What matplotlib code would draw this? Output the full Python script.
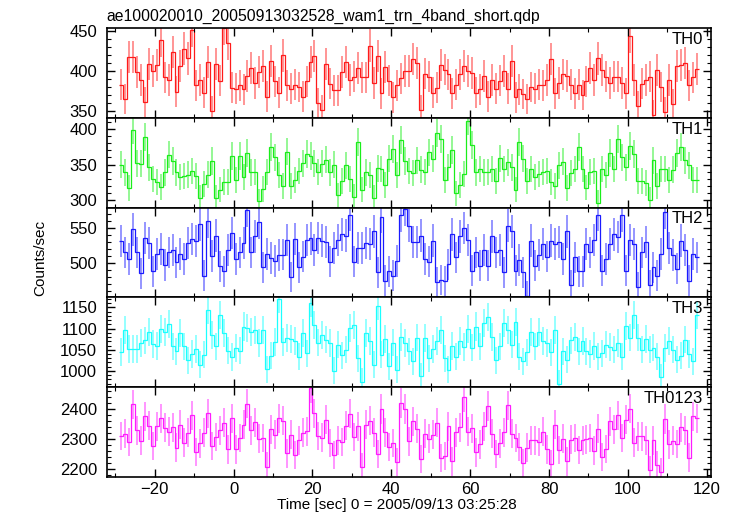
import numpy as np
import matplotlib
matplotlib.use("Agg")
import matplotlib.pyplot as plt
from matplotlib.ticker import MultipleLocator

plt.rcParams['font.family'] = ['Liberation Sans', 'DejaVu Sans']

# light curve bins (1 s), time relative to 2005/09/13 03:25:28
t_start = -29.0
bin_size = 1.0

th0 = [383, 365, 418, 418, 399, 389, 361, 409, 400, 408,
       439, 392, 389, 424, 374, 407, 428, 416, 452, 382,
       389, 373, 412, 350, 409, 388, 454, 435, 379, 378,
       382, 377, 394, 404, 385, 399, 406, 368, 413, 387,
       373, 420, 382, 378, 383, 380, 368, 387, 411, 419,
       360, 351, 409, 384, 376, 376, 399, 411, 389, 393,
       404, 392, 392, 432, 385, 419, 372, 405, 388, 367,
       382, 391, 400, 400, 415, 410, 351, 397, 393, 373,
       379, 408, 402, 396, 372, 383, 396, 406, 400, 398,
       373, 377, 394, 368, 389, 378, 388, 400, 378, 413,
       367, 377, 371, 365, 380, 378, 383, 382, 389, 415,
       372, 385, 396, 394, 383, 372, 383, 370, 387, 404,
       389, 416, 401, 393, 385, 393, 393, 385, 372, 444,
       389, 356, 384, 389, 393, 345, 401, 380, 349, 389,
       358, 406, 408, 410, 382, 392, 403]

th1 = [350, 339, 317, 398, 352, 351, 388, 346, 330, 326,
       319, 339, 364, 355, 339, 333, 334, 336, 341, 334,
       304, 323, 336, 355, 304, 315, 326, 326, 362, 328,
       362, 333, 366, 339, 340, 299, 316, 340, 375, 360,
       335, 320, 368, 320, 328, 341, 352, 365, 362, 352,
       340, 351, 357, 339, 350, 307, 327, 349, 330, 305,
       382, 315, 339, 335, 304, 345, 344, 322, 358, 372,
       335, 384, 355, 341, 338, 356, 343, 340, 367, 358,
       394, 386, 328, 346, 370, 310, 322, 337, 411, 377,
       339, 344, 339, 340, 344, 327, 359, 344, 353, 346,
       315, 382, 358, 327, 344, 333, 337, 340, 341, 326,
       320, 349, 354, 317, 338, 344, 375, 344, 318, 340,
       341, 297, 344, 335, 366, 344, 386, 360, 346, 376,
       365, 327, 327, 324, 301, 356, 320, 344, 344, 328,
       343, 366, 375, 356, 349, 329, 329]

th2 = [531, 515, 506, 548, 515, 485, 536, 529, 488, 513,
       520, 497, 515, 518, 501, 513, 506, 529, 534, 531,
       555, 482, 560, 510, 539, 495, 488, 519, 543, 506,
       515, 528, 576, 515, 538, 558, 494, 513, 507, 503,
       511, 512, 533, 480, 534, 494, 509, 533, 535, 518,
       536, 532, 530, 502, 521, 533, 541, 539, 569, 502,
       521, 522, 528, 527, 545, 487, 566, 475, 488, 482,
       503, 568, 577, 553, 530, 530, 539, 506, 502, 532,
       473, 476, 474, 498, 541, 508, 538, 550, 533, 489,
       515, 496, 519, 496, 538, 515, 518, 487, 553, 545,
       489, 504, 487, 453, 532, 496, 511, 527, 509, 532,
       527, 530, 506, 545, 468, 508, 488, 488, 527, 515,
       533, 569, 489, 506, 527, 541, 537, 568, 489, 533,
       527, 466, 515, 530, 468, 494, 482, 513, 573, 522,
       511, 492, 532, 519, 475, 513, 508]

th3 = [1045, 1096, 1052, 1052, 1052, 1066, 1072, 1092, 1064, 1059,
       1099, 1092, 1111, 1058, 1046, 1089, 1058, 1025, 1040, 1052,
       1015, 1038, 1144, 1085, 1058, 1132, 1089, 1048, 1033, 1054,
       1048, 1105, 1101, 1092, 1097, 1066, 1096, 1004, 1036, 1068,
       1170, 1068, 1077, 1076, 1070, 1034, 1089, 1042, 1161, 1109,
       1067, 1084, 1074, 1066, 1001, 1062, 1037, 1050, 1101, 1109,
       1030, 975, 1089, 1070, 1015, 1154, 1038, 1075, 1011, 1067,
       1003, 1081, 1066, 1046, 1023, 1079, 987, 1077, 1030, 1052,
       1070, 1097, 1030, 1003, 1059, 1034, 1070, 1056, 1099, 1055,
       1105, 1058, 1114, 1128, 1081, 1025, 1058, 1113, 1097, 1062,
       1115, 1034, 1023, 1044, 1093, 1058, 1093, 1070, 1066, 1044,
       1097, 970, 1046, 1026, 1072, 1081, 1046, 1070, 1046, 1040,
       1059, 1034, 1042, 1062, 1056, 1050, 1066, 1034, 1107, 1079,
       1132, 1079, 1050, 1075, 1050, 1055, 1034, 985, 1054, 1070,
       1050, 1026, 1036, 1074, 1040, 1023, 1132]

th0123 = [2311, 2319, 2291, 2417, 2330, 2295, 2377, 2346, 2278, 2344,
          2370, 2338, 2326, 2340, 2272, 2348, 2289, 2322, 2381, 2258,
          2286, 2322, 2387, 2278, 2308, 2330, 2355, 2266, 2370, 2266,
          2304, 2348, 2419, 2330, 2357, 2302, 2304, 2209, 2333, 2315,
          2371, 2362, 2253, 2316, 2248, 2297, 2322, 2327, 2472, 2387,
          2311, 2305, 2366, 2288, 2248, 2297, 2291, 2346, 2386, 2308,
          2344, 2206, 2348, 2362, 2322, 2250, 2401, 2324, 2275, 2288,
          2223, 2422, 2401, 2293, 2360, 2335, 2233, 2319, 2302, 2315,
          2355, 2237, 2245, 2344, 2226, 2324, 2340, 2442, 2326, 2337,
          2256, 2283, 2344, 2411, 2319, 2250, 2286, 2324, 2414, 2319,
          2304, 2275, 2220, 2272, 2297, 2297, 2291, 2326, 2266, 2217,
          2348, 2264, 2302, 2226, 2299, 2304, 2264, 2297, 2300, 2304,
          2262, 2335, 2240, 2267, 2360, 2333, 2381, 2304, 2366, 2403,
          2289, 2310, 2310, 2297, 2198, 2297, 2215, 2190, 2368, 2283,
          2295, 2284, 2340, 2330, 2239, 2377, 2370]

bands = ['TH0', 'TH1', 'TH2', 'TH3', 'TH0123']
rates = [th0, th1, th2, th3, th0123]
colors = ['#ff1a1a', '#1aee1a', '#1a1aff', '#1affff', '#ff1aff']
ylims = [(341, 454), (290, 415), (451, 579), (962, 1174), (2175, 2475)]
major = [50, 50, 50, 50, 100]
minor = [10, 10, 10, 10, 20]

fig, axes = plt.subplots(5, 1, sharex=True, figsize=(7.34, 5.16), dpi=100)
fig.subplots_adjust(left=0.1454, right=0.9687, top=0.9452, bottom=0.0762, hspace=0)

for ax, name, r, c, yl, mj, mn in zip(axes, bands, rates, colors, ylims, major, minor):
    r = np.array(r, dtype=float)
    edges = t_start + bin_size * np.arange(len(r) + 1)
    centers = 0.5 * (edges[:-1] + edges[1:])
    err = np.sqrt(r * bin_size) / bin_size  # poisson error
    ax.errorbar(centers, r, yerr=err, fmt='none', ecolor=c, elinewidth=1.3, alpha=0.5)
    ax.stairs(r, edges, baseline=None, color=c, lw=0.9)
    ax.set_ylim(*yl)
    ax.set_xlim(-32.2, 121.1)
    ax.yaxis.set_major_locator(MultipleLocator(mj))
    ax.yaxis.set_minor_locator(MultipleLocator(mn))
    ax.xaxis.set_major_locator(MultipleLocator(20))
    ax.xaxis.set_minor_locator(MultipleLocator(10))
    ax.tick_params(which='both', direction='in', top=True, right=True, labelsize=12)
    ax.tick_params(which='major', length=6, width=1)
    ax.tick_params(which='minor', length=3, width=0.8)
    ax.tick_params(axis='y', pad=7)
    for s in ax.spines.values():
        s.set_linewidth(1.2)
    ax.text(0.987, 0.96, name, transform=ax.transAxes, ha='right', va='top', fontsize=12)

axes[-1].tick_params(axis='x', pad=4)

fig.text(0.1454, 0.959, 'ae100020010_20050913032528_wam1_trn_4band_short.qdp',
         ha='left', va='baseline', fontsize=11.3)
fig.text(0.541, 0.013, 'Time [sec] 0 = 2005/09/13 03:25:28', ha='center', va='baseline', fontsize=11)
fig.text(0.055, 0.5, 'Counts/sec', rotation=90, ha='center', va='center', fontsize=11)

plt.savefig('out.png', dpi=100)
